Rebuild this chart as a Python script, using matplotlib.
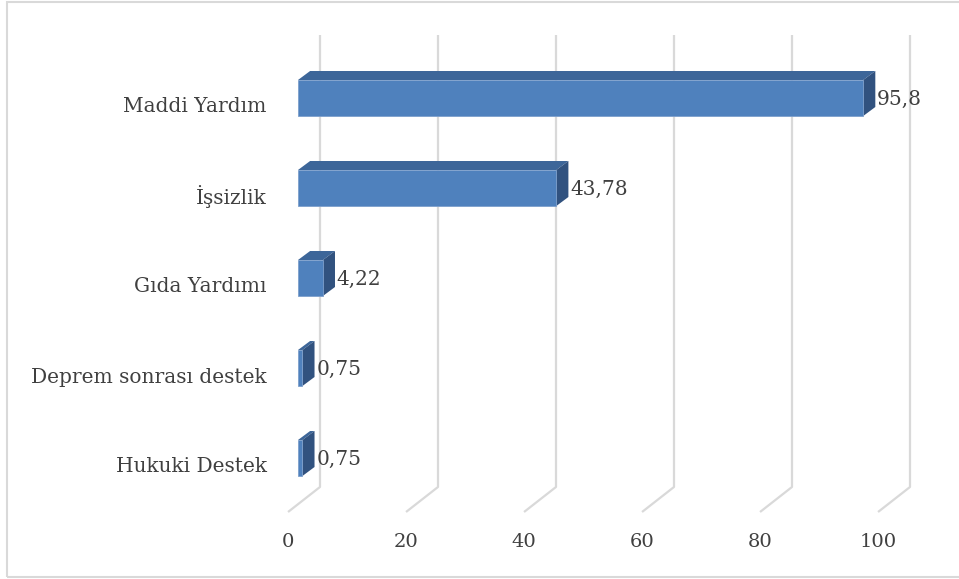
import matplotlib
matplotlib.use("Agg")
import matplotlib.pyplot as plt
from matplotlib.patches import Polygon, Rectangle

# data (top to bottom)
categories = ["Maddi Yardım", "İşsizlik", "Gıda Yardımı", "Deprem sonrası destek", "Hukuki Destek"]
values = [95.8, 43.78, 4.22, 0.75, 0.75]
value_labels = ["95,8", "43,78", "4,22", "0,75", "0,75"]
ticks = [0, 20, 40, 60, 80, 100]

# 3d look, in data units (1 unit x = 5.9 px, 1 unit y = 90 px)
depth_x = 2.05
depth_y = 0.1
wall_x = 3.73
floor_x = -1.69
bar_h = 0.4

front_col = "#4f81bd"
top_col = "#3d6699"
side_col = "#31527f"
grid_col = "#d9d9d9"
text_col = "#404040"
font = "DejaVu Serif"

fig = plt.figure(figsize=(9.59, 5.79), dpi=100)
ax = fig.add_axes([0, 0, 1, 1])
ax.set_xlim(-298 / 5.9, (959 - 298) / 5.9)
ax.set_ylim((579 - 98) / 90, -98 / 90)
ax.axis("off")

# back wall gridlines + floor
y_top, y_wall, y_floor = -0.7, 4.322, 4.6
for t in ticks:
    ax.plot([t + wall_x, t + wall_x, t + floor_x], [y_top, y_wall, y_floor],
            color=grid_col, lw=1.6, solid_capstyle="butt", zorder=1)
    ax.text(t + floor_x, 4.933, str(t), ha="center", va="center",
            fontsize=14, family=font, color=text_col)

ypos = list(range(len(categories)))
ax.barh(ypos, values, height=bar_h, color=front_col, edgecolor="#7d9fcc",
        linewidth=0.6, zorder=4)
for y, v, lab, cat in zip(ypos, values, value_labels, categories):
    top = y - bar_h / 2
    bot = y + bar_h / 2
    ax.add_patch(Polygon([(0, top), (depth_x, top - depth_y), (v + depth_x, top - depth_y), (v, top)],
                         closed=True, facecolor=top_col, edgecolor="none", zorder=3))
    ax.add_patch(Polygon([(v, top), (v + depth_x, top - depth_y), (v + depth_x, bot - depth_y), (v, bot)],
                         closed=True, facecolor=side_col, edgecolor="none", zorder=3))
    ax.text(v + depth_x + 0.3, y + 0.02, lab, ha="left", va="center",
            fontsize=14.5, family=font, color=text_col)
    ax.text(-5.3, y + 0.1, cat, ha="right", va="center",
            fontsize=14.5, family=font, color=text_col)

# chart border
fig.add_artist(Rectangle((7 / 959, 2 / 579), 1.0, 575 / 579, transform=fig.transFigure,
                         fill=False, edgecolor=grid_col, lw=1.5))

fig.savefig("out.png", dpi=100)
